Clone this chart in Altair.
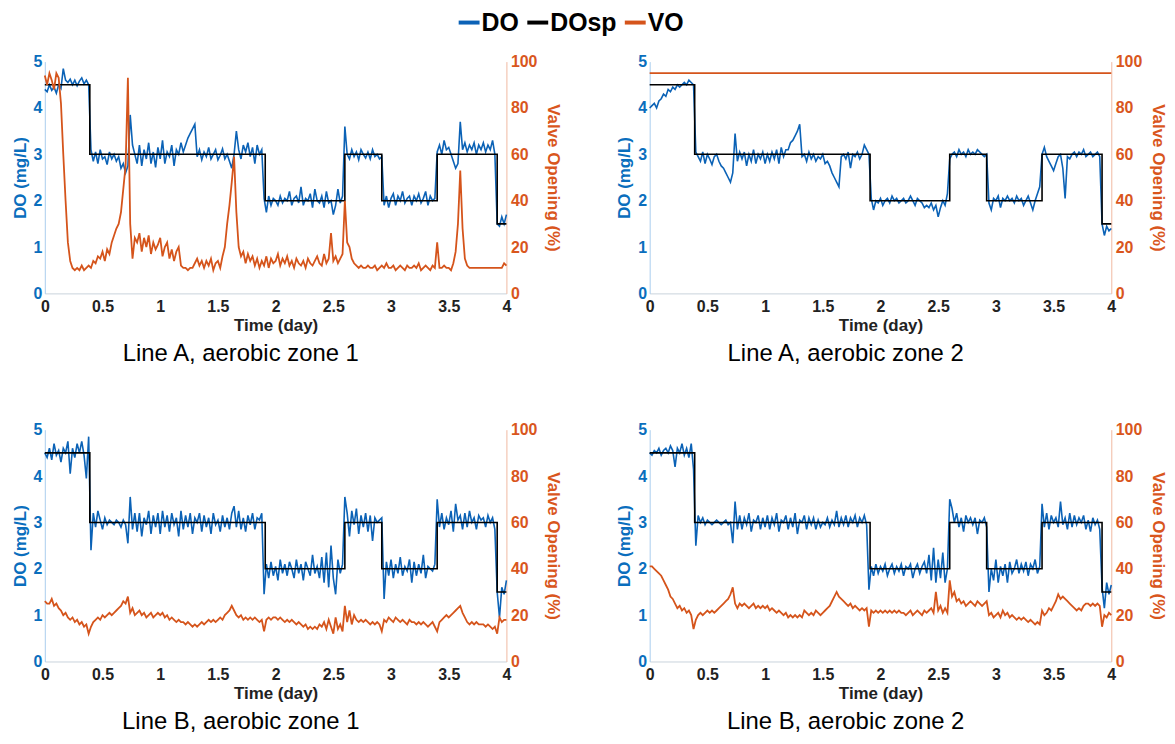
import altair as alt
import pandas as pd

# sample times (day), one sample every 0.02 day
T = [round(i * 0.02, 2) for i in range(201)]

# ---------------- Line A, zone 1 ----------------
DO_A1 = [
    4.4, 4.35, 4.5, 4.38, 4.45, 4.32, 4.5, 4.42, 4.85, 4.6,
    4.55, 4.62, 4.5, 4.6, 4.48, 4.58, 4.65, 4.52, 4.6, 4.5,
    3.1, 2.85, 3.05, 2.8, 3.1, 2.9, 2.95, 2.78, 3.05, 2.9,
    3.0, 2.85, 2.95, 2.7, 2.8, 2.6, 2.75, 3.85, 3.2, 3.0,
    2.8, 3.2, 2.75, 3.1, 2.9, 3.25, 2.8, 3.05, 2.72, 3.15,
    2.9, 3.3, 2.8, 3.05, 2.95, 3.2, 2.75, 3.1, 3.0, 3.25,
    3.05, 3.2, 3.35, 3.45, 3.55, 3.65, 2.95, 3.1, 2.88, 3.05,
    2.95, 3.15, 2.9, 3.0, 3.1, 2.88, 2.98, 3.12, 2.9, 3.0,
    2.85, 2.7, 3.0, 3.5, 3.1, 2.9, 3.2, 3.05, 3.25, 2.95,
    3.15, 2.8, 3.2, 3.0, 3.1, 2.05, 1.75, 2.1, 1.9, 2.05,
    2.0, 1.9, 2.1, 1.95, 2.05, 2.0, 2.2, 1.9, 2.05, 2.1,
    1.95, 2.3, 1.9, 2.05, 2.0, 2.15, 1.85, 2.25, 2.0, 1.95,
    2.1, 1.85, 2.2, 1.95, 2.0, 1.7, 1.9, 2.25, 1.95, 2.1,
    3.6, 3.0, 2.9, 3.1, 2.95, 3.05, 2.88, 3.1, 3.0, 2.92,
    3.05, 2.9, 3.1, 2.95, 3.0, 2.9, 2.95, 1.9, 2.1, 1.85,
    2.05, 2.15, 1.9, 2.1, 2.0, 2.2, 1.95, 2.05, 2.1, 1.9,
    2.1, 2.0, 2.15, 1.95, 2.05, 2.2, 1.9, 2.1, 2.0, 2.05,
    3.05, 3.2, 3.0, 3.3, 3.1, 3.15, 3.0, 2.85, 2.7, 2.8,
    3.7, 3.1, 3.25, 3.05, 3.2, 3.1, 3.25, 3.0, 3.2, 3.1,
    3.25, 3.05, 3.2, 3.1, 3.3, 3.0, 1.5, 1.45, 1.65, 1.5,
    1.7,
]
VO_A1 = [
    94, 90, 95, 92, 88, 95, 93, 82, 60, 40,
    22, 14, 11, 10, 11, 10, 12, 10, 11, 12,
    11, 14, 13, 16, 15, 18, 14, 19, 17, 22,
    25, 28, 30, 35, 45, 55, 93, 30, 15, 24,
    22, 26, 18, 24, 20, 25, 17, 22, 19, 21,
    24, 16, 20, 22, 15, 19, 14, 18, 20, 12,
    11, 11, 10, 11, 11, 13, 15, 12, 14, 11,
    14, 12, 15, 10, 13, 14, 11, 16, 20, 30,
    38, 48, 59, 35, 20, 16, 18, 13, 17, 14,
    16, 12, 15, 11, 14, 12, 16, 11, 15, 13,
    14, 17, 12, 15, 13, 16, 12, 14, 11, 15,
    13, 12, 14, 11, 15, 13, 12, 14, 16, 13,
    12, 17, 13, 15, 26, 14, 16, 13, 15, 17,
    40, 22, 20, 15, 13, 12, 11, 12, 11, 11,
    12, 11, 11, 12, 10, 11, 12, 11, 13, 11,
    11, 12, 10, 11, 12, 11, 10, 12, 11, 11,
    12, 11, 13, 10, 11, 12, 11, 10, 12, 11,
    22, 11, 11, 12, 11, 11, 10, 13, 18, 30,
    53, 28, 15, 12, 11, 11, 11, 11, 11, 11,
    11, 11, 11, 11, 11, 11, 11, 11, 11, 13,
    12,
]

# ---------------- Line A, zone 2 ----------------
DO_A2 = [
    4.0, 4.05, 4.1, 4.0, 4.15, 4.2, 4.3, 4.25, 4.4, 4.35,
    4.45, 4.4, 4.5, 4.45, 4.5, 4.55, 4.5, 4.6, 4.55, 4.5,
    3.05, 2.95, 2.85, 3.05, 2.8, 3.0, 2.9, 2.78, 2.95, 3.0,
    2.85, 2.75, 2.7, 2.6, 2.5, 2.4, 2.6, 3.45, 2.85, 3.05,
    2.9, 3.05, 2.75, 3.0, 2.85, 3.1, 2.8, 3.0, 2.9, 3.05,
    2.8, 3.0, 2.85, 3.05, 2.9, 3.1, 2.8, 3.15, 2.95, 3.1,
    3.1, 3.25, 3.3, 3.4, 3.5, 3.65, 2.95, 3.0, 2.85, 3.05,
    2.9, 3.0, 2.85, 2.95, 2.9, 3.0, 2.8, 2.85, 2.75, 2.6,
    2.5, 2.4, 2.3, 2.95, 3.0, 2.9, 3.05, 2.7, 3.0, 2.95,
    3.05, 2.9, 3.0, 3.2, 3.1, 3.0, 2.05, 1.8, 2.0, 1.95,
    2.05, 1.9, 2.0, 2.05, 1.95, 2.1, 2.0, 2.05, 1.95, 2.0,
    2.05, 1.95, 2.0, 2.1, 2.0, 1.9, 2.05, 2.0, 1.95, 1.85,
    1.9, 1.85, 1.95, 1.8, 1.9, 1.65, 1.85, 2.0, 1.9, 2.15,
    2.9, 3.0, 3.05, 2.95, 3.1, 3.0, 3.05, 2.95, 3.1, 3.0,
    3.05, 3.0, 3.1, 3.05, 3.0, 2.95, 3.0, 1.95, 1.8, 2.05,
    2.0, 2.1, 1.85, 2.05, 2.0, 2.1, 2.0, 2.05, 1.95, 2.1,
    2.0, 2.05, 1.9, 2.0, 2.1, 1.95, 1.8, 2.0, 2.15, 2.3,
    3.0, 3.15, 2.95, 2.85, 2.75, 2.65, 2.8, 2.95, 3.0, 2.7,
    2.05, 2.95, 2.9, 3.0, 3.05, 2.95, 3.05, 3.0, 3.1, 2.95,
    3.0, 3.05, 2.95, 3.0, 3.05, 2.95, 1.5, 1.25, 1.45, 1.35,
    1.4,
]
VO_A2_T = [0.0, 4.0]
VO_A2 = [95, 95]

# ---------------- Line B, zone 1 ----------------
DO_B1 = [
    4.5, 4.4, 4.6, 4.35, 4.7, 4.45, 4.55, 4.3, 4.6, 4.5,
    4.75, 4.05, 4.6, 4.4, 4.7, 4.5, 4.75, 4.45, 3.95, 4.85,
    2.4, 3.2, 2.9, 3.25, 3.05, 2.85, 3.1, 2.95, 3.05, 3.0,
    2.95, 3.05, 3.0, 2.9, 3.05, 2.95, 2.55, 3.55, 2.85, 3.2,
    2.8, 3.2, 2.7, 3.1, 2.95, 3.25, 2.75, 3.15, 2.9, 3.2,
    2.75, 3.25, 2.9, 3.15, 2.8, 3.2, 2.95, 3.1, 2.7, 3.25,
    2.85, 3.15, 2.9, 3.2, 2.75, 3.1, 3.0, 3.2, 2.8, 3.15,
    2.9, 3.1, 2.75, 3.2, 2.95, 3.05, 2.8, 3.15, 2.9, 3.1,
    2.85, 3.2, 3.35, 2.9, 3.25, 2.85, 3.1, 2.8, 3.15, 2.95,
    3.2, 2.85, 3.1, 3.05, 3.2, 1.45, 2.1, 1.8, 2.15, 1.85,
    2.05, 1.75, 2.2, 1.9, 2.1, 1.85, 2.15, 2.0, 1.8, 2.2,
    1.9, 2.1, 1.75, 2.15, 2.0, 1.85, 2.3, 1.9, 2.05, 1.8,
    2.25, 1.7, 2.35, 1.6, 2.5, 1.8, 1.45, 2.2, 1.9, 2.1,
    3.55, 3.2, 2.7, 3.25, 2.95, 3.3, 2.75, 3.15, 2.9, 3.2,
    2.8, 3.15, 2.6, 3.1, 3.0, 3.05, 3.1, 1.35, 2.15, 1.85,
    2.2, 1.8, 2.1, 1.9, 2.25, 1.85, 2.05, 1.95, 2.2, 1.7,
    2.15, 1.85, 2.1, 1.9, 2.3, 1.8, 2.05, 2.0, 1.95, 2.1,
    3.5, 2.9, 3.2, 2.85, 3.1, 2.95, 3.25, 2.8, 3.4, 3.05,
    3.15, 2.85, 3.2, 2.9, 3.25, 3.0, 3.1, 2.85, 3.15, 3.05,
    3.1, 2.9, 3.15, 3.0, 3.1, 2.85, 1.5, 0.95, 1.6, 1.45,
    1.75,
]
VO_B1 = [
    26, 25, 25, 27, 24, 25, 23, 22, 20, 21,
    19, 18, 19, 17, 18, 16, 17, 15, 16, 12,
    15, 17, 18, 19, 18, 20, 19, 20, 21, 20,
    21, 22, 23, 24, 26, 25, 28, 21, 23, 20,
    21, 22, 20, 21, 19, 20, 21, 19, 20, 21,
    20, 21, 19, 20, 18, 19, 18, 17, 18, 17,
    17, 16, 17, 16, 15, 16, 15, 16, 17, 16,
    17, 18, 17, 18, 17, 18, 19, 18, 20, 21,
    22, 24, 22, 20, 19, 20, 18, 19, 18, 19,
    18, 19, 18, 17, 18, 13, 18, 19, 18, 19,
    19, 18, 19, 18, 17, 18, 17, 18, 17, 16,
    17, 16, 15, 16, 14, 15, 14, 15, 14, 16,
    15, 17, 14, 18, 15, 12, 19, 14, 16, 13,
    24, 17, 22, 16, 20, 18, 17, 18, 17, 18,
    17, 16, 17, 16, 17, 16, 13, 18, 17, 19,
    18, 17, 19, 18, 17, 18, 17, 16, 18, 17,
    17, 16, 17, 16, 17, 16, 15, 16, 17, 15,
    13, 17, 18, 19, 20, 19, 20, 21, 22, 23,
    24, 21, 19, 17, 16, 17, 16, 17, 16, 16,
    16, 15, 16, 15, 14, 15, 12, 19, 17, 18,
    18,
]

# ---------------- Line B, zone 2 ----------------
DO_B2 = [
    4.5, 4.45, 4.55, 4.5, 4.6, 4.45, 4.55, 4.6, 4.5, 4.65,
    4.55, 4.2, 4.6, 4.5, 4.7, 4.45, 4.6, 4.4, 4.7, 4.15,
    2.5, 3.15, 3.0, 3.1, 2.95, 3.05, 3.0, 2.95, 3.0, 3.05,
    3.0, 2.95, 3.0, 3.05, 2.95, 3.0, 2.55, 3.45, 2.85, 3.15,
    2.85, 3.1, 2.95, 3.2, 2.8, 3.05, 3.0, 3.15, 2.85, 3.1,
    2.9, 3.15, 2.85, 3.1, 2.95, 3.2, 2.8, 3.05, 3.0, 3.15,
    2.85, 3.1, 2.9, 3.2, 2.75, 3.05, 3.0, 3.15, 2.85, 3.1,
    2.95, 3.1, 2.85, 3.05, 2.9, 3.0, 2.95, 3.1, 2.9, 3.05,
    2.95, 3.25, 2.9, 3.1, 2.95, 3.15, 2.9, 3.1, 3.0, 3.15,
    2.9, 3.1, 3.0, 3.15, 2.95, 1.55, 2.05, 1.85, 2.1, 1.9,
    2.05, 1.95, 2.1, 1.85, 2.0, 2.1, 1.9, 2.05, 1.95, 2.1,
    1.85, 2.05, 2.0, 2.1, 1.8, 2.0, 2.1, 1.9, 2.05, 2.15,
    1.9, 2.3, 1.75, 2.45, 1.7, 2.2, 1.8, 2.35, 1.7, 2.0,
    3.5, 3.3, 3.0, 3.2, 2.9, 3.1, 2.8, 3.15, 3.0, 3.1,
    2.95, 3.1, 2.75, 3.05, 3.0, 3.1, 2.9, 1.5, 2.0, 1.75,
    2.2, 1.7, 2.05, 1.85, 2.1, 1.7, 2.15, 1.9, 2.0, 2.2,
    1.9, 2.1, 1.95, 2.15, 1.85, 2.1, 2.0, 2.2, 1.9, 2.05,
    3.4, 2.9, 3.2, 2.85, 3.15, 3.0, 3.1, 2.9, 3.45, 2.95,
    3.1, 2.85, 3.2, 2.9, 3.15, 2.95, 3.1, 3.0, 3.15, 2.85,
    3.05, 2.8, 3.1, 2.95, 3.05, 2.85, 1.6, 1.15, 1.7, 1.45,
    1.65,
]
VO_B2 = [
    41, 41, 40, 39, 38, 37, 35, 33, 31, 28,
    27, 25, 23, 24, 22, 23, 21, 22, 20, 14,
    18, 20, 21, 20, 21, 22, 21, 22, 21, 22,
    23, 24, 25, 26, 27, 29, 32, 25, 23, 25,
    24, 25, 24, 23, 24, 25, 23, 24, 23, 24,
    23, 24, 22, 23, 22, 21, 22, 21, 20, 21,
    19, 20, 19, 20, 19, 20, 19, 22, 21, 20,
    21, 20, 22, 21, 20, 21, 22, 23, 24, 26,
    28, 30, 28, 27, 26, 25, 24, 25, 23, 24,
    23, 22, 23, 22, 23, 15, 22, 21, 22, 21,
    22, 21, 22, 21, 22, 21, 22, 21, 22, 21,
    21, 20, 21, 22, 20, 21, 22, 21, 20, 22,
    21, 22, 23, 21, 30, 22, 24, 21, 23, 21,
    35, 28, 30, 26, 27, 25, 26, 24, 25, 26,
    25, 24, 26, 25, 24, 25, 26, 20, 21, 19,
    20, 21, 19, 22, 20, 21, 19, 20, 19, 18,
    19, 18, 19, 18, 17, 18, 17, 16, 17, 16,
    22, 20, 21, 23, 22, 24, 26, 29, 27, 28,
    27, 26, 25, 24, 23, 22, 23, 22, 24, 25,
    25, 24, 25, 24, 25, 24, 15, 20, 19, 21,
    20,
]

# DO set point (step changes)
SP_T = [0.0, 0.39, 1.91, 2.6, 2.92, 3.4, 3.92, 4.0]
SP_V = [4.5, 3.0, 2.0, 3.0, 2.0, 3.0, 1.5, 1.5]

X_TICKS = [0, 0.5, 1, 1.5, 2, 2.5, 3, 3.5, 4]
DO_TICKS = [0, 1, 2, 3, 4, 5]
VO_TICKS = [0, 20, 40, 60, 80, 100]

SERIES = ["DO", "DOsp", "VO"]
BLUE = "#0b62b6"
ORANGE = "#d5541b"
AX_BLUE = "#0a6ebd"
AX_ORANGE = "#d9561d"
FONT = "Liberation Sans"

color_scale = alt.Scale(domain=SERIES, range=[BLUE, "#000000", ORANGE])
legend = alt.Legend(
    title=None, orient="none", legendX=414, legendY=-52, direction="horizontal",
    symbolType="stroke", symbolStrokeWidth=4, symbolSize=441,
    labelFont=FONT, labelFontSize=25, labelFontWeight="bold", labelColor="#000",
    labelOffset=0, columnPadding=0,
)

x_axis = alt.Axis(
    values=X_TICKS, format="~g", title="Time (day)", labelFlush=False,
    labelFont=FONT, labelFontSize=16, labelFontWeight="bold", labelColor="#222",
    titleFont=FONT, titleFontSize=17, titleFontWeight="bold", titleColor="#222",
    domainColor="#c9d3dc", ticks=False, labelPadding=5, titlePadding=3, grid=False,
)
do_axis = alt.Axis(
    values=DO_TICKS, title="DO (mg/L)", orient="left",
    labelFont=FONT, labelFontSize=16, labelFontWeight="bold", labelColor=AX_BLUE,
    titleFont=FONT, titleFontSize=17, titleFontWeight="bold", titleColor=AX_BLUE,
    domainColor="#a9cdee", ticks=False, labelPadding=3, titlePadding=4, grid=False,
)
vo_axis = alt.Axis(
    values=VO_TICKS, title="Valve Opening (%)", orient="right",
    labelFont=FONT, labelFontSize=16, labelFontWeight="bold", labelColor=AX_ORANGE,
    titleFont=FONT, titleFontSize=17, titleFontWeight="bold", titleColor=AX_ORANGE,
    domainColor="#f0b8a0", ticks=False, labelPadding=4, titlePadding=7, grid=False,
)


def panel(do_vals, vo_t, vo_vals, subtitle):
    df_do = pd.DataFrame({"t": T, "v": do_vals, "s": "DO"})
    df_sp = pd.DataFrame({"t": SP_T, "v": SP_V, "s": "DOsp"})
    df_vo = pd.DataFrame({"t": vo_t, "v": vo_vals, "s": "VO"})
    x = alt.X("t:Q", scale=alt.Scale(domain=[0, 4], nice=False), axis=x_axis)
    y_do = alt.Y("v:Q", scale=alt.Scale(domain=[0, 5], nice=False), axis=do_axis)
    y_vo = alt.Y("v:Q", scale=alt.Scale(domain=[0, 100], nice=False), axis=vo_axis)
    col = alt.Color("s:N", scale=color_scale, legend=legend)
    do_line = alt.Chart(df_do).mark_line(strokeWidth=1.6).encode(x=x, y=y_do, color=col)
    sp_line = alt.Chart(df_sp).mark_line(strokeWidth=1.6, interpolate="step-after").encode(
        x=x, y=y_do, color=col)
    vo_line = alt.Chart(df_vo).mark_line(strokeWidth=1.8).encode(x=x, y=y_vo, color=col)
    left = alt.layer(do_line, sp_line)
    return alt.layer(left, vo_line).resolve_scale(y="independent").properties(
        width=464, height=233,
        title=alt.TitleParams(
            subtitle, orient="bottom", font=FONT, fontSize=24,
            fontWeight="normal", color="#000", dx=-35, offset=9,
        ),
    )


p1 = panel(DO_A1, T, VO_A1, "Line A, aerobic zone 1")
p2 = panel(DO_A2, VO_A2_T, VO_A2, "Line A, aerobic zone 2")
p3 = panel(DO_B1, T, VO_B1, "Line B, aerobic zone 1")
p4 = panel(DO_B2, T, VO_B2, "Line B, aerobic zone 2")

chart = alt.vconcat(
    alt.hconcat(p1, p2, spacing=54),
    alt.hconcat(p3, p4, spacing=54),
    spacing=56,
).properties(
    padding={"top": 0, "left": 3, "right": 0, "bottom": 0},
).configure_view(stroke=None).configure_axis(grid=False)

chart.save("out.html", embed_options={"renderer": "svg", "actions": False})
